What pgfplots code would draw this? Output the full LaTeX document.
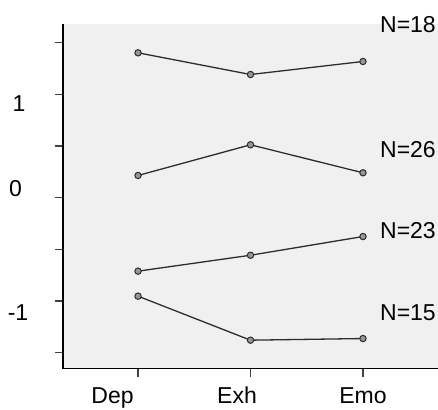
\documentclass[border=0pt]{standalone}
\usepackage{pgfplots}
\pgfplotsset{compat=1.18}
\usepackage{fontspec}
\setmainfont{Liberation Sans}
\definecolor{bgfill}{RGB}{240,240,240}
\definecolor{linec}{RGB}{45,45,45}
\definecolor{markc}{RGB}{150,150,150}
\begin{document}
\begin{tikzpicture}
\useasboundingbox (0,0) rectangle (438pt,409pt);
\begin{axis}[
    at={(63pt,40.5pt)}, anchor=south west,
    scale only axis,
    width=375pt, height=344pt,
    xmin=-0.667, xmax=2.667,
    ymin=-1.652, ymax=1.677,
    axis x line=bottom, axis y line=left,
    axis line style={-, black, line width=1.4pt},
    axis background/.style={fill=bgfill},
    xtick={0,1,2}, xticklabels={},
    ytick={-1.5,-1,-0.5,0,0.5,1,1.5}, yticklabels={},
    tick align=outside,
    major tick length=8pt,
    tick style={black!75, line width=1.3pt},
    clip=false,
    font=\fontsize{23}{27}\selectfont,
    grp/.style={linec, line width=1.3pt, mark=*, mark size=3.2pt,
        mark options={draw=linec, fill=markc, line width=1pt}},
]
\pgfplotstableread{
x   n18    n26    n23     n15
0   1.403  0.216  -0.710  -0.952
1   1.193  0.513  -0.556  -1.378
2   1.319  0.242  -0.375  -1.362
}\means

\addplot[grp] table[x=x, y=n18] {\means};
\addplot[grp] table[x=x, y=n26] {\means};
\addplot[grp] table[x=x, y=n23] {\means};
\addplot[grp] table[x=x, y=n15] {\means};

% group sizes
\node[anchor=west, inner sep=0pt] at (axis cs:2.151,1.677) {N=18};
\node[anchor=west, inner sep=0pt] at (axis cs:2.151,0.467) {N=26};
\node[anchor=west, inner sep=0pt] at (axis cs:2.151,-0.316) {N=23};
\node[anchor=west, inner sep=0pt] at (axis cs:2.151,-1.115) {N=15};

% tick labels, placed as in the original
\node[inner sep=0pt] at (axis cs:-1.058,0.913) {1};
\node[inner sep=0pt] at (axis cs:-1.089,0.090) {0};
\node[inner sep=0pt] at (axis cs:-1.067,-1.110) {-1};
\node[anchor=base, inner sep=0pt] at (axis cs:-0.227,-1.991) {Dep};
\node[anchor=base, inner sep=0pt] at (axis cs:0.880,-1.991) {Exh};
\node[anchor=base, inner sep=0pt] at (axis cs:2.000,-1.991) {Emo};
\end{axis}
\end{tikzpicture}
\end{document}
